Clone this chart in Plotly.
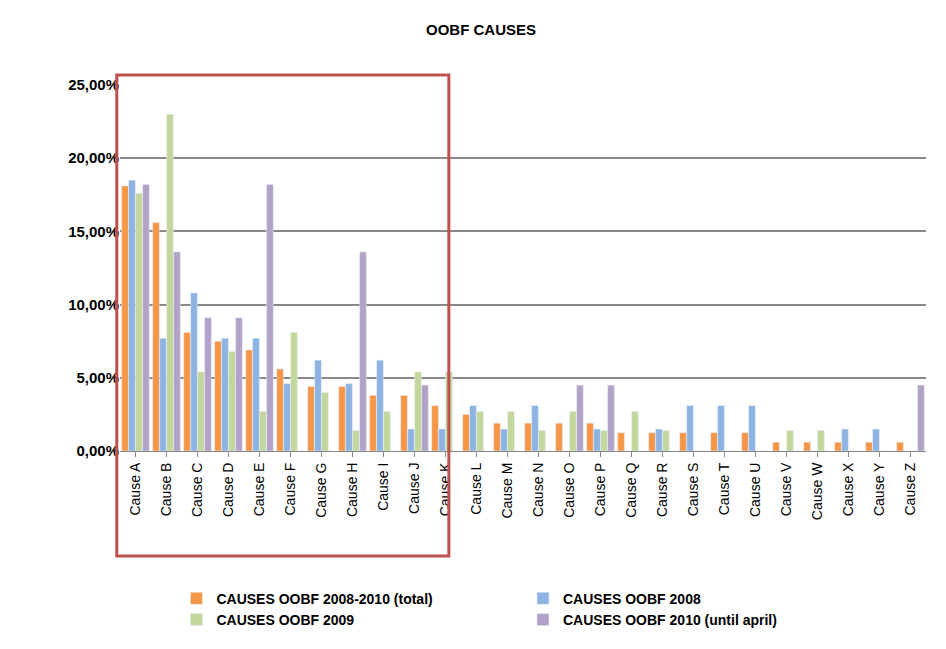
import plotly.graph_objects as go

causes = ["Cause " + c for c in "ABCDEFGHIJKLMNOPQRSTUVWXYZ"]
total = [18.1, 15.6, 8.1, 7.5, 6.9, 5.6, 4.4, 4.4, 3.8, 3.8, 3.1, 2.5, 1.9, 1.9, 1.9, 1.9,
         1.25, 1.25, 1.25, 1.25, 1.25, 0.6, 0.6, 0.6, 0.6, 0.6]
y2008 = [18.5, 7.7, 10.8, 7.7, 7.7, 4.6, 6.2, 4.6, 6.2, 1.5, 1.5, 3.1, 1.5, 3.1, 0, 1.5,
         0, 1.5, 3.1, 3.1, 3.1, 0, 0, 1.5, 1.5, 0]
y2009 = [17.6, 23.0, 5.4, 6.8, 2.7, 8.1, 4.0, 1.4, 2.7, 5.4, 5.4, 2.7, 2.7, 1.4, 2.7, 1.4,
         2.7, 1.4, 0, 0, 0, 1.4, 1.4, 0, 0, 0]
y2010 = [18.2, 13.6, 9.1, 9.1, 18.2, 0, 0, 13.6, 0, 4.5, 0, 0, 0, 0, 4.5, 4.5,
         0, 0, 0, 0, 0, 0, 0, 0, 0, 4.5]

series = [
    ("CAUSES OOBF 2008-2010 (total)", total, "#F79646"),
    ("CAUSES OOBF 2008", y2008, "#8DB3E2"),
    ("CAUSES OOBF 2009", y2009, "#C3D69B"),
    ("CAUSES OOBF 2010 (until april)", y2010, "#B3A2C7"),
]

fig = go.Figure()
for name, vals, color in series:
    fig.add_trace(go.Bar(x=causes, y=[v / 100 for v in vals], name=name, marker_color=color))

# red box around the first causes
fig.add_shape(type="rect", xref="paper", yref="paper", x0=-0.004, x1=0.408, y0=-0.287, y1=1.027,
              line=dict(color="#C0504D", width=3))

fig.update_layout(
    width=946, height=649,
    margin=dict(l=112, r=28, t=77, b=206),
    paper_bgcolor="white", plot_bgcolor="white",
    separators=",.",
    font=dict(family="Liberation Sans, Arial", size=13, color="black"),
    title=dict(text="<b>OOBF CAUSES</b>", x=0.5, xanchor="center", y=0.975, yanchor="top",
               font=dict(size=15)),
    barmode="group", bargap=0.1, bargroupgap=0.05,
    legend=dict(orientation="h", x=0.07, y=-0.36, xanchor="left", yanchor="top",
                entrywidthmode="fraction", entrywidth=0.43, font=dict(size=14, weight="bold"),
                traceorder="normal"),
)
fig.update_xaxes(tickangle=-90, showline=True, linecolor="#888", ticks="outside",
                 ticklen=5, tickcolor="#888", tickfont=dict(size=14))
fig.update_yaxes(range=[0, 0.25], dtick=0.05, tickformat=".2%", showgrid=True,
                 gridcolor="#888", gridwidth=1.5, zeroline=False,
                 tickfont=dict(size=15, weight="bold"))
fig.write_html("out.html")
